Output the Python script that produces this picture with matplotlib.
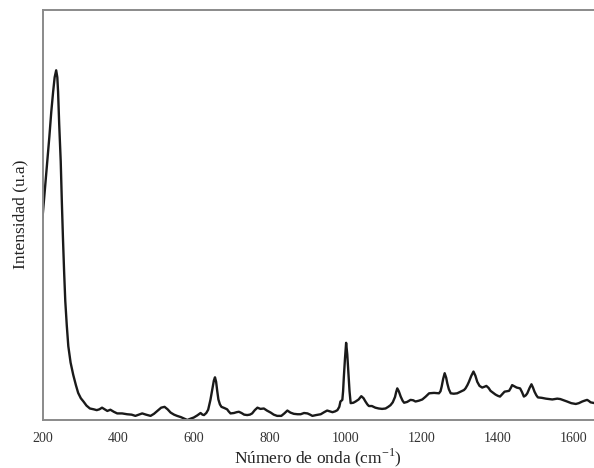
import matplotlib
matplotlib.use('Agg')
import matplotlib.pyplot as plt

# espectro (numero de onda, intensidad en u.a.)
wavenumber = [200, 207, 213, 218, 223, 228, 232, 236, 239, 241, 244, 248, 251, 254, 257, 260, 264, 268,
              274, 281, 288, 294, 301, 308, 316, 325, 335, 343, 350, 357, 364, 371, 379, 388, 397, 410,
              423, 435, 445, 454, 463, 473, 485, 494, 503, 513, 522, 530, 538, 547, 555, 565, 575, 582,
              590, 599, 608, 617, 622, 626, 632, 637, 643, 648, 652, 655, 658, 661, 664, 668, 672, 680,
              687, 691, 696, 705, 712, 718, 725, 732, 740, 747, 753, 760, 767, 775, 784, 792, 802, 810,
              819, 830, 838, 846, 854, 863, 873, 881, 890, 899, 906, 912, 922, 934, 943, 951, 958, 965,
              972, 978, 983, 986, 991, 993, 995, 998, 1001, 1004, 1007, 1010, 1013, 1020, 1026, 1034,
              1041, 1047, 1052, 1057, 1061, 1069, 1078, 1087, 1096, 1105, 1112, 1118, 1124, 1130, 1133,
              1136, 1140, 1145, 1150, 1154, 1162, 1171, 1178, 1184, 1193, 1202, 1211, 1220, 1233, 1246,
              1250, 1253, 1257, 1261, 1265, 1268, 1272, 1277, 1285, 1294, 1301, 1308, 1312, 1316, 1321,
              1325, 1331, 1337, 1342, 1347, 1353, 1360, 1366, 1371, 1377, 1382, 1389, 1395, 1401, 1407,
              1413, 1419, 1425, 1431, 1436, 1439, 1445, 1451, 1456, 1460, 1465, 1470, 1475, 1479, 1485,
              1490, 1494, 1498, 1503, 1507, 1517, 1528, 1537, 1545, 1552, 1558, 1566, 1575, 1584, 1595,
              1607, 1615, 1624, 1630, 1637, 1642, 1646, 1657]
intensity = [49.4, 57, 63.5, 69, 75, 80, 83.5, 85.2, 83.5, 80, 72, 63, 53, 44, 36, 29, 23, 18,
             14, 11, 8.5, 6.6, 5.3, 4.5, 3.5, 2.8, 2.6, 2.4, 2.6, 3.0, 2.6, 2.2, 2.5, 2.0, 1.6, 1.6,
             1.4, 1.3, 1.0, 1.3, 1.6, 1.3, 1.0, 1.5, 2.2, 3.0, 3.2, 2.6, 1.8, 1.3, 1.0, 0.7, 0.3, 0.0,
             0.3, 0.6, 1.1, 1.7, 1.3, 1.2, 1.7, 2.5, 4.9, 7.5, 9.6, 10.4, 9.3, 7, 5.0, 3.8, 3.2, 2.9,
             2.6, 2.1, 1.6, 1.7, 1.9, 2.0, 1.7, 1.3, 1.2, 1.3, 1.6, 2.4, 3.0, 2.7, 2.8, 2.3, 1.8, 1.3,
             1.0, 1.0, 1.6, 2.3, 1.8, 1.5, 1.4, 1.4, 1.7, 1.6, 1.3, 1.0, 1.2, 1.4, 1.9, 2.3, 2.1, 1.9,
             2.1, 2.4, 3.2, 4.5, 4.9, 7, 10.5, 15, 18.8, 16, 11.4, 7, 4.1, 4.2, 4.5, 5.0,
             5.8, 5.3, 4.5, 3.8, 3.4, 3.4, 3.0, 2.8, 2.7, 2.8, 3.2, 3.6, 4.3, 5.6, 6.8,
             7.7, 7, 5.7, 4.7, 4.2, 4.4, 4.9, 4.8, 4.5, 4.7, 5.0, 5.7, 6.5, 6.6, 6.5,
             7, 8.1, 10, 11.4, 10.3, 8.9, 7.5, 6.5, 6.4, 6.5, 6.8, 7.1, 7.3, 7.7, 8.5,
             9.3, 10.7, 11.8, 10.8, 9.3, 8.3, 7.9, 8.1, 8.3, 7.8, 7.1, 6.6, 6.2, 5.9, 5.7,
             6.3, 6.9, 7.0, 7.1, 7.9, 8.5, 8.2, 7.9, 7.8, 7.7, 6.8, 5.7, 6.0, 6.5, 7.8,
             8.7, 7.9, 6.9, 6.0, 5.5, 5.4, 5.2, 5.1, 5.0, 5.1, 5.2, 5.1, 4.8, 4.5, 4.1,
             3.9, 4.1, 4.5, 4.7, 4.9, 4.6, 4.3, 4.1]
xticks = [200, 400, 600, 800, 1000, 1200, 1400, 1600]

plt.rcParams['font.family'] = ['Liberation Serif', 'DejaVu Serif']
plt.rcParams['mathtext.fontset'] = 'custom'
plt.rcParams['mathtext.rm'] = 'Liberation Serif'

fig = plt.figure(figsize=(5.94, 4.68), dpi=100)
ax = fig.add_axes([0.0716, 0.1026, 0.9284, 0.877])

ax.plot(wavenumber, intensity, color='#1a1a1a', linewidth=1.7)

ax.set_xlim(200, 1655)
ax.set_ylim(0, 100)
ax.set_xticks(xticks)
ax.set_xticklabels([str(t) for t in xticks])
ax.set_yticks([])
ax.tick_params(axis='x', length=0, pad=9, labelsize=10, colors='#333333')

for side in ['left', 'top', 'bottom']:
    ax.spines[side].set_color('#8a8a8a')
    ax.spines[side].set_linewidth(1.4)
ax.spines['right'].set_visible(False)

ax.set_xlabel(r'Número de onda (cm$^{\mathregular{-1}}$)', fontsize=12.5, color='#222222', labelpad=1)
ax.set_ylabel('Intensidad (u.a)', fontsize=12.5, color='#222222', labelpad=10)

fig.savefig('out.png', dpi=100)
